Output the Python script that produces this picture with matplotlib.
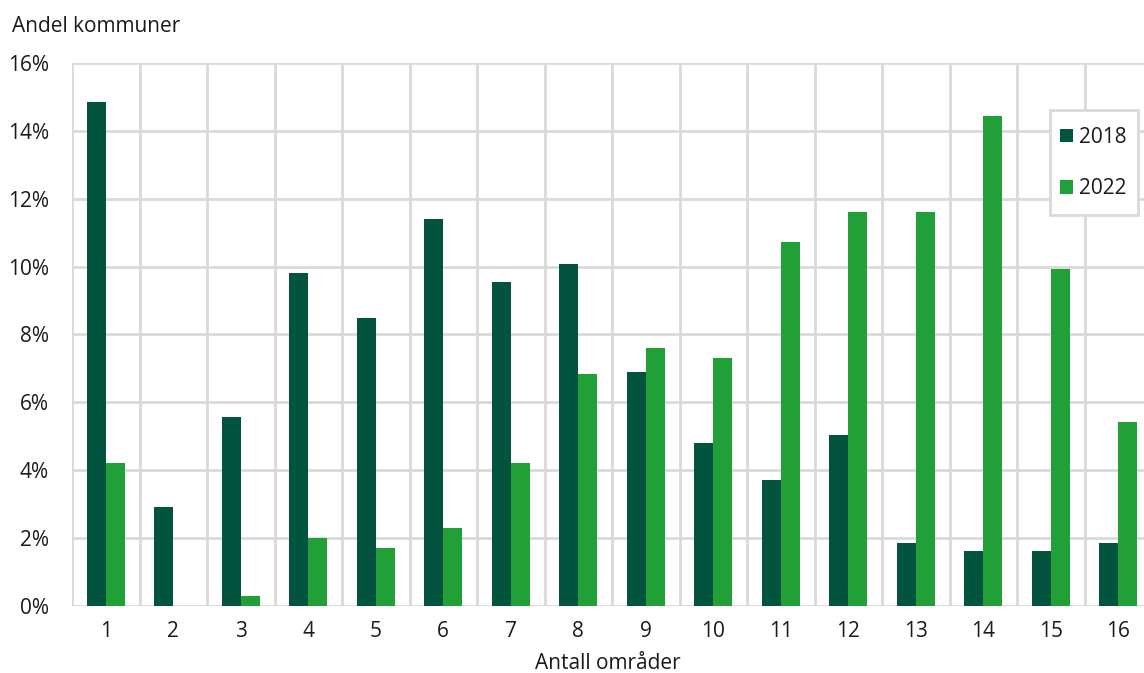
import matplotlib
matplotlib.use("Agg")
import matplotlib.pyplot as plt
from matplotlib.patches import Rectangle
from matplotlib.ticker import FuncFormatter
import numpy as np

plt.rcParams['font.family'] = ['Open Sans', 'DejaVu Sans']

categories = list(range(1, 17))
share_2018 = [14.85, 2.92, 5.57, 9.82, 8.48, 11.40, 9.56, 10.08,
              6.90, 4.79, 3.72, 5.04, 1.85, 1.60, 1.60, 1.85]
share_2022 = [4.21, 0.0, 0.30, 2.00, 1.70, 2.30, 4.21, 6.82,
              7.60, 7.31, 10.72, 11.61, 11.61, 14.43, 9.92, 5.41]
series_labels = ["2018", "2022"]

dark_green = "#02543f"
light_green = "#21a038"
grid_grey = "#d9d9d9"
text_col = "#1a1a1a"
fs = 15
W, H = 1144, 673

fig = plt.figure(figsize=(W / 100, H / 100), dpi=100)
ax = fig.add_axes([72 / W, 0.100, 1 - 72 / W, 0.806])

x = np.array(categories, dtype=float)
w = 0.28
ax.bar(x - w / 2, share_2018, width=w, color=dark_green, label=series_labels[0], zorder=3)
ax.bar(x + w / 2, share_2022, width=w, color=light_green, label=series_labels[1], zorder=3)

ax.set_xlim(0.5, 16.38)
ax.set_ylim(0, 16)

# horizontal grid at every 2 %, vertical lines between categories
for yv in np.arange(0, 16.01, 2):
    ax.axhline(yv, color=grid_grey, lw=2, zorder=1)
for xv in np.arange(0.5, 17, 1.0):
    ax.axvline(xv, color=grid_grey, lw=2, zorder=1)

ax.set_yticks(np.arange(0, 16.01, 2))
ax.yaxis.set_major_formatter(FuncFormatter(lambda v, p: f"{v:.0f}%"))
ax.set_xticks(categories)
ax.set_xticklabels([str(c) for c in categories])
ax.tick_params(axis='both', length=0, labelsize=fs, colors=text_col)
ax.tick_params(axis='y', pad=16.5)
ax.tick_params(axis='x', pad=11)

for s in ax.spines.values():
    s.set_visible(False)

ax.set_xlabel("Antall områder", fontsize=fs, color=text_col, labelpad=8)
fig.text(12 / W, 1 - 26 / H, "Andel kommuner", fontsize=fs, color=text_col,
         ha='left', va='center')

# legend box with square markers
box = Rectangle((1050 / W, 1 - 215 / H), 88 / W, 105 / H, transform=fig.transFigure,
                facecolor='white', edgecolor=grid_grey, linewidth=2, zorder=4,
                clip_on=False)
ax.add_patch(box)
leg = ax.legend(loc='center left', bbox_to_anchor=(1060 / W, 1 - 163 / H),
                bbox_transform=fig.transFigure, fontsize=fs, frameon=False,
                handlelength=0.62, handleheight=0.62, handletextpad=0.3,
                labelspacing=1.45, borderpad=0, borderaxespad=0)
leg.set_zorder(5)
for t in leg.get_texts():
    t.set_color(text_col)

fig.savefig("out.png", dpi=100)
